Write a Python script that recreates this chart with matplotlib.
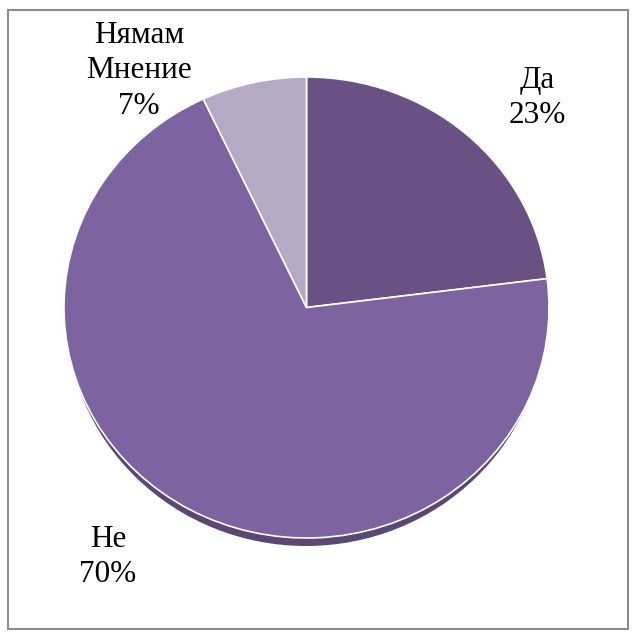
import matplotlib
matplotlib.use("Agg")
import matplotlib.pyplot as plt
from matplotlib.patches import Ellipse, Rectangle

# data
labels = ["Да", "Не", "Нямам\nМнение"]
shares = [23, 70, 7]
colors = ["#6a5184", "#7d64a0", "#b4aac6"]

# label centres in pixels (x, y from top)
label_pos = [(537, 98), (108, 557), (139, 71)]

W, H = 634, 636
fig = plt.figure(figsize=(W / 100, H / 100), dpi=100)

# background axes in pixel coordinates
bg = fig.add_axes([0, 0, 1, 1])
bg.set_xlim(0, W)
bg.set_ylim(H, 0)
bg.axis("off")
bg.add_patch(Rectangle((7.5, 9.5), 620, 619, fill=False, edgecolor="#8c8c8c", linewidth=1.5))

# shadow under the pie (bottom rim)
bg.add_patch(Ellipse((306, 313), 480, 466, facecolor="#5a4773", edgecolor="none", zorder=1))

# pie in its own axes, stretched a bit to an ellipse
left, right, top, bottom = 64, 549, 77, 538
ax = fig.add_axes([left / W, 1 - bottom / H, (right - left) / W, (bottom - top) / H])
ax.pie(shares, colors=colors, startangle=90, counterclock=False,
       wedgeprops=dict(edgecolor="white", linewidth=1.2))
ax.set_xlim(-1.0, 1.0)
ax.set_ylim(-1.0, 1.0)
ax.set_aspect("auto")
ax.axis("off")

for lab, pct, (x, y) in zip(labels, shares, label_pos):
    bg.text(x, y, f"{lab}\n{pct}%", ha="center", va="center", fontsize=22.5,
            family="Liberation Serif", color="black", linespacing=1.3, zorder=5)

fig.savefig("out.png", dpi=100)
